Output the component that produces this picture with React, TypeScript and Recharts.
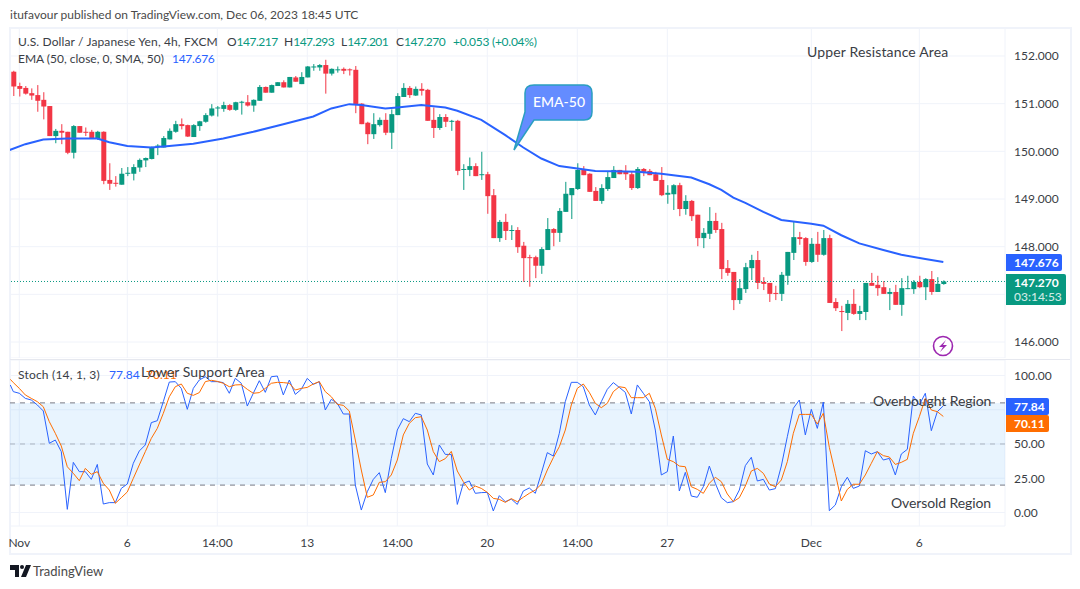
import { Bar, CartesianGrid, ComposedChart, Line, ReferenceArea, ReferenceLine, XAxis, YAxis } from "recharts";

const FONT = "Lato, 'Noto Sans', sans-serif";
const UP = "#089981";
const DOWN = "#f23645";
const BLUE = "#2962ff";
const ORANGE = "#ff6d00";
const GRID = "#f0f3fa";
const TEXT = "#3a3d45";

// 4h candles, Nov 1 -> Dec 6
const highs = [
  151.69,151.44,151.37,151.32,151.39,151.24,150.95,150.47,150.57,150.41,
  150.55,150.53,150.50,150.45,150.43,150.42,149.75,149.48,149.65,149.67,
  149.73,149.85,149.87,150.10,150.15,150.32,150.48,150.64,150.69,150.56,
  150.57,150.64,150.80,150.99,150.95,151.04,150.99,151.04,151.06,151.18,
  151.09,151.39,151.36,151.40,151.45,151.49,151.56,151.58,151.66,151.79,
  151.83,151.83,151.92,151.74,151.78,151.76,151.74,151.79,151.01,150.62,
  150.80,150.71,150.80,150.88,151.22,151.43,151.37,151.36,151.43,151.31,
  150.92,150.78,150.78,150.66,150.66,149.73,149.87,149.75,149.99,149.57,
  149.21,148.56,148.69,148.45,148.41,148.10,147.83,147.81,147.99,148.60,
  148.39,148.81,149.36,149.23,149.75,149.69,149.54,149.25,149.31,149.57,
  149.69,149.61,149.71,149.57,149.67,149.65,149.63,149.57,149.67,149.29,
  149.31,149.34,149.08,148.98,148.67,148.39,148.83,148.71,148.50,147.72,
  147.47,147.32,147.66,147.83,147.91,147.36,147.24,147.18,147.47,147.89,
  148.53,148.31,148.20,148.18,148.31,148.35,148.25,146.92,146.76,146.88,
  147.11,146.76,147.24,147.45,147.39,147.28,147.13,147.20,147.34,147.39,
  147.30,147.39,147.34,147.49,147.36,147.293,
];
const lows = [
  151.16,151.15,151.19,151.08,150.83,150.67,150.32,150.17,150.15,149.94,
  149.85,150.39,150.32,150.26,150.24,149.31,149.19,149.26,149.30,149.48,
  149.39,149.57,149.67,149.83,149.92,150.08,150.25,150.39,150.46,150.30,
  150.30,150.43,150.60,150.73,150.73,150.83,150.85,150.85,150.77,150.94,
  150.83,151.06,151.23,151.23,151.37,151.34,151.34,151.46,151.41,151.55,
  151.69,151.69,151.21,151.59,151.65,151.62,151.59,150.80,150.57,150.15,
  150.26,150.52,150.34,150.05,150.76,151.14,151.12,151.16,151.17,150.64,
  150.28,150.45,150.51,150.43,149.50,149.19,149.48,149.48,149.40,148.69,
  148.18,148.10,148.14,148.14,147.87,147.26,147.16,147.34,147.43,147.93,
  148.01,148.10,148.73,148.58,149.19,149.50,149.15,148.96,148.90,149.17,
  149.44,149.52,149.40,149.19,149.21,149.48,149.50,149.38,149.06,148.90,
  148.77,148.64,148.67,148.54,148.01,147.97,148.16,148.29,147.32,147.39,
  146.67,146.80,147.03,147.30,147.11,147.09,146.84,146.88,146.86,147.20,
  147.72,148.04,147.60,147.66,147.68,147.81,146.82,146.65,146.23,146.46,
  146.57,146.46,146.46,147.18,146.97,147.01,146.67,146.78,146.55,147.11,
  147.01,147.13,146.88,146.99,147.05,147.201,
];
const opens = [
  151.67,151.37,151.33,151.22,151.18,151.08,150.95,150.32,150.43,150.41,
  149.97,150.53,150.41,150.41,150.26,150.41,149.40,149.34,149.30,149.53,
  149.53,149.66,149.81,149.84,150.10,150.08,150.25,150.41,150.57,150.55,
  150.30,150.53,150.62,150.75,150.90,150.89,150.97,150.87,151.03,151.03,
  150.96,151.06,151.35,151.23,151.37,151.45,151.34,151.55,151.41,151.55,
  151.76,151.76,151.81,151.63,151.71,151.73,151.72,151.71,151.00,150.60,
  150.36,150.55,150.66,150.39,150.76,151.14,151.33,151.17,151.31,151.29,
  150.66,150.49,150.72,150.63,150.64,149.61,149.61,149.69,149.50,149.52,
  149.08,148.18,148.52,148.34,148.35,148.02,147.78,147.78,147.60,147.93,
  148.37,148.29,148.73,149.08,149.21,149.61,149.53,149.17,148.96,149.21,
  149.44,149.61,149.57,149.52,149.23,149.63,149.59,149.52,149.40,149.09,
  149.10,149.29,148.79,148.96,148.67,148.18,148.27,148.54,148.37,147.55,
  147.47,146.88,147.11,147.55,147.72,147.26,147.24,147.03,147.01,147.39,
  147.87,148.20,148.18,147.68,148.06,147.83,148.18,146.84,146.65,146.61,
  146.80,146.59,146.63,147.24,147.20,147.15,147.01,147.05,146.78,147.12,
  147.11,147.26,147.15,147.32,147.05,147.217,
];
const closes = [
  151.36,151.31,151.21,151.17,151.06,150.94,150.32,150.43,150.39,149.97,
  150.53,150.39,150.39,150.27,150.41,149.38,149.32,149.32,149.53,149.55,
  149.67,149.82,149.86,150.08,150.12,150.28,150.43,150.57,150.53,150.31,
  150.55,150.63,150.76,150.90,150.92,150.97,150.87,151.03,151.04,150.96,
  151.08,151.35,151.23,151.39,151.45,151.34,151.56,151.46,151.56,151.78,
  151.78,151.81,151.63,151.73,151.72,151.69,151.70,150.99,150.57,150.36,
  150.57,150.66,150.39,150.78,151.16,151.33,151.18,151.31,151.27,150.64,
  150.49,150.72,150.62,150.64,149.59,149.63,149.69,149.48,149.52,149.06,
  148.18,148.52,148.33,148.35,147.99,147.76,147.77,147.60,147.95,148.37,
  148.29,148.75,149.11,149.23,149.61,149.50,149.15,148.96,149.23,149.46,
  149.61,149.52,149.52,149.23,149.63,149.57,149.50,149.38,149.08,149.13,
  149.29,148.79,148.96,148.64,148.18,148.29,148.54,148.35,147.53,147.45,
  146.88,147.13,147.57,147.72,147.24,147.22,147.01,147.01,147.41,147.89,
  148.20,148.16,147.68,148.06,147.83,148.18,146.82,146.71,146.63,146.80,
  146.59,146.65,147.24,147.18,147.13,147.01,147.05,146.78,147.13,147.13,
  147.26,147.15,147.32,147.05,147.22,147.27,
];

// EMA read at these candle positions
const emaAt = [
  -1,2,5,9,14,16,19,23,26,30,35,40,45,50,53,56,58,62,64,68,72,74,78,82,85,88,91,94,97,100,104,108,113,116,118,120,122,125,128,130,133,135,138,141,145,148,152,155,
];
const emaValues = [
  150.01,150.15,150.25,150.27,150.27,150.19,150.11,150.08,150.11,150.16,150.27,150.41,150.57,150.73,150.90,150.99,150.97,150.90,150.92,150.97,150.92,150.85,150.66,150.34,150.08,149.85,149.69,149.64,149.59,149.58,149.57,149.53,149.45,149.31,149.19,149.03,148.92,148.73,148.56,148.53,148.48,148.44,148.24,148.07,147.93,147.83,147.74,147.68,
];

const stochK = [
  88.2,87.0,83.3,82.1,78.5,74.1,50.5,52.9,44.4,2.3,
  36.6,29.8,29.8,24.2,35.1,6.2,7.2,7.2,17.6,20.8,
  35.9,44.9,49.3,65.6,67.0,80.9,95.2,95.5,90.6,75.3,
  90.6,96.7,99.1,95.5,95.5,94.8,87.0,97.9,94.3,77.7,
  87.0,96.2,87.7,99.1,99.6,85.8,96.7,86.2,89.9,97.9,
  93.5,95.5,74.8,82.6,79.7,71.9,71.9,20.1,1.8,15.2,
  24.2,29.1,14.5,39.5,60.2,68.5,66.3,72.4,71.2,35.4,
  27.4,49.3,42.4,42.4,5.9,21.3,23.0,14.0,14.5,14.7,
  1.1,12.3,7.9,9.8,5.9,15.7,17.9,14.0,28.6,43.7,
  41.2,57.8,80.9,95.0,95.0,91.8,78.5,71.2,80.9,89.9,
  94.8,91.3,87.7,71.9,93.1,87.0,80.9,60.2,27.4,29.8,
  55.8,15.7,29.3,12.0,11.1,18.8,33.9,21.3,10.8,7.2,
  7.9,16.4,34.2,40.3,23.0,24.2,16.4,17.4,33.9,55.3,
  76.0,82.1,56.6,75.3,61.4,80.6,1.3,5.5,18.8,25.7,
  17.6,19.3,45.1,42.7,44.4,38.3,39.5,27.4,42.7,46.1,
  85.0,78.5,87.0,59.7,73.6,77.84,
];
const stochD = [
  94.8,90.6,85.8,83.3,80.9,77.2,66.3,57.8,48.5,33.4,
  28.6,23.2,32.2,27.9,29.8,21.3,16.4,6.7,10.8,15.0,
  24.9,34.7,44.4,54.1,61.4,72.4,84.5,91.8,93.8,87.0,
  85.5,87.5,95.5,96.5,95.7,94.3,91.8,93.1,93.3,89.9,
  87.0,87.5,90.6,94.3,95.0,94.8,94.3,89.4,90.6,91.3,
  93.8,95.5,88.2,84.5,78.9,78.2,74.1,52.9,31.0,11.1,
  12.8,22.0,22.5,27.4,38.3,56.6,65.1,69.2,69.9,60.2,
  44.4,37.1,39.3,44.6,30.3,22.5,16.4,19.3,17.6,14.7,
  10.3,9.6,7.4,10.1,7.9,11.1,14.0,16.4,20.6,31.0,
  40.0,48.0,60.2,78.5,90.6,93.8,87.7,79.7,76.5,79.7,
  88.2,91.8,91.1,83.8,83.8,83.8,87.0,76.0,56.6,38.8,
  37.1,33.9,33.4,18.8,16.9,14.0,21.3,25.7,22.5,13.5,
  7.9,10.8,19.3,30.3,32.2,28.6,20.8,18.8,23.7,37.1,
  57.8,71.6,71.6,71.6,64.6,72.4,47.6,28.6,8.4,16.9,
  20.6,20.6,27.4,35.9,44.4,41.5,40.5,35.1,36.6,38.8,
  57.8,69.9,83.3,74.8,73.6,70.11,
];

const timeTicks = [1, 19, 34, 49, 64, 79, 94, 109, 133, 151];
const timeLabels = ["Nov", "6", "14:00", "13", "14:00", "20", "14:00", "27", "Dec", "6"];
const priceTicks = [146, 147, 148, 149, 150, 151, 152];
const stochTicks = [0, 25, 50, 75, 100];

const X_DOMAIN: [number, number] = [-0.55, 165.28];

const priceRows: any[] = [
  { i: -1, ema: emaValues[0] },
  ...highs.map((high, i) => ({
    i,
    high,
    low: lows[i],
    open: opens[i],
    close: closes[i],
    range: [lows[i], high],
    ema: emaAt.includes(i) ? emaValues[emaAt.indexOf(i)] : undefined,
  })),
];

const stochRows = [
  { i: -0.5, k: 93.05, d: 97.2 },
  ...stochK.map((k, i) => ({ i, k, d: stochD[i] })),
];

function Candle(props: any) {
  const { x, y, width, height, payload } = props;
  if (!payload || payload.high == null) return null;
  const { high, low, open, close } = payload;
  const toY = (v: number) => y + ((high - v) / (high - low)) * height;
  const color = close >= open ? UP : DOWN;
  const cx = x + width / 2;
  const top = toY(Math.max(open, close));
  const bottom = toY(Math.min(open, close));
  return (
    <g>
      <line x1={cx} x2={cx} y1={y} y2={y + height} stroke={color} strokeWidth={1} />
      <rect x={x} y={top} width={width} height={Math.max(bottom - top, 1)} fill={color} />
    </g>
  );
}

function Txt({ x, y, color = TEXT, size = 12, weight = 400, spacing = 0, children }: any) {
  return (
    <div
      style={{
        position: "absolute",
        left: x,
        top: y - 10,
        height: 20,
        lineHeight: "20px",
        fontFamily: FONT,
        fontSize: size,
        fontWeight: weight,
        letterSpacing: spacing,
        color,
        whiteSpace: "nowrap",
      }}
    >
      {children}
    </div>
  );
}

function Tag({ x, y, w, h, bg, children }: any) {
  return (
    <div
      style={{
        position: "absolute",
        left: x,
        top: y,
        width: w,
        height: h,
        background: bg,
        color: "#fff",
        fontFamily: FONT,
        fontSize: 12,
        fontWeight: 700,
        lineHeight: "17px",
        paddingLeft: 8,
        boxSizing: "border-box",
        borderRadius: "0 2px 2px 0",
      }}
    >
      {children}
    </div>
  );
}

function Ohlc({ x, name, value }: any) {
  return (
    <Txt x={x} y={42}>
      {name}
      <span style={{ color: UP, letterSpacing: -0.5 }}>{value}</span>
    </Txt>
  );
}

const tick = { fontFamily: FONT, fontSize: 12, fill: TEXT };

export default function App() {
  return (
    <div style={{ position: "absolute", left: 0, top: 0, width: 1080, height: 589, background: "#fff", overflow: "hidden" }}>
      <Txt x={10} y={15} color="#4a4a4a">itufavour published on TradingView.com, Dec 06, 2023 18:45 UTC</Txt>

      {/* frame */}
      <div style={{ position: "absolute", left: 9, top: 27, width: 1059, height: 524, border: "2px solid " + GRID }} />
      <div style={{ position: "absolute", left: 10, top: 359, width: 1060, height: 1, background: "#e6e8ef" }} />

      <div style={{ position: "absolute", left: 0, top: 28 }}>
        <ComposedChart width={1080} height={330} data={priceRows} margin={{ top: 0, right: 0, bottom: 0, left: 10 }}>
          <CartesianGrid stroke={GRID} />
          <XAxis dataKey="i" type="number" domain={X_DOMAIN} ticks={timeTicks} allowDataOverflow hide />
          <YAxis
            orientation="right"
            width={75}
            domain={[145.665, 152.587]}
            ticks={priceTicks}
            allowDataOverflow
            interval={0}
            axisLine={false}
            tickLine={false}
            tickMargin={3}
            tick={tick}
            tickFormatter={(v: number) => (v === 147 ? "" : v.toFixed(3))}
          />
          <ReferenceLine y={147.27} stroke={UP} strokeDasharray="1 2" />
          <Bar dataKey="range" barSize={5} shape={<Candle />} isAnimationActive={false} />
          <Line dataKey="ema" stroke={BLUE} strokeWidth={2} dot={false} connectNulls isAnimationActive={false} />
        </ComposedChart>
      </div>

      <div style={{ position: "absolute", left: 0, top: 360 }}>
        <ComposedChart width={1080} height={193} data={stochRows} margin={{ top: 0, right: 0, bottom: 0, left: 10 }}>
          <CartesianGrid stroke={GRID} />
          <XAxis
            dataKey="i"
            type="number"
            domain={X_DOMAIN}
            ticks={timeTicks}
            allowDataOverflow
            interval={0}
            height={27}
            axisLine={false}
            tickLine={false}
            tickMargin={6}
            tick={tick}
            tickFormatter={(v: number) => timeLabels[timeTicks.indexOf(v)]}
          />
          <YAxis
            orientation="right"
            width={75}
            domain={[-9.85, 111.3]}
            ticks={stochTicks}
            allowDataOverflow
            interval={0}
            axisLine={false}
            tickLine={false}
            tickMargin={3}
            tick={tick}
            tickFormatter={(v: number) => (v === 75 ? "" : v.toFixed(2))}
          />
          <ReferenceArea y1={20} y2={80} fill="#2196f3" fillOpacity={0.1} stroke="none" />
          <ReferenceLine y={80} stroke="#787b86" strokeDasharray="5 5" />
          <ReferenceLine y={50} stroke="#787b86" strokeOpacity={0.5} strokeDasharray="5 5" />
          <ReferenceLine y={20} stroke="#787b86" strokeDasharray="5 5" />
          <Line dataKey="k" stroke={BLUE} strokeWidth={1} dot={false} isAnimationActive={false} />
          <Line dataKey="d" stroke={ORANGE} strokeWidth={1} dot={false} isAnimationActive={false} />
        </ComposedChart>
      </div>

      {/* legend rows */}
      <Txt x={18} y={42} spacing={0.13}>U.S. Dollar / Japanese Yen, 4h, FXCM</Txt>
      <Ohlc x={227} name="O" value="147.217" />
      <Ohlc x={284} name="H" value="147.293" />
      <Ohlc x={341} name="L" value="147.201" />
      <Ohlc x={396} name="C" value="147.270" />
      <Txt x={453} y={42} color={UP} spacing={-0.25}>+0.053 (+0.04%)</Txt>
      <Txt x={18} y={59}>EMA (50, close, 0, SMA, 50)</Txt>
      <Txt x={172} y={59} color={BLUE} spacing={-0.3}>147.676</Txt>
      <Txt x={18} y={375} spacing={0.2}>Stoch (14, 1, 3)</Txt>
      <Txt x={109} y={375} color={BLUE}>77.84</Txt>
      <Txt x={146} y={375} color={ORANGE}>70.11</Txt>

      {/* drawn annotations */}
      <Txt x={807} y={52} size={14} spacing={0.15}>Upper Resistance Area</Txt>
      <Txt x={141} y={372} size={14} spacing={0.1}>Lower Support Area</Txt>
      <Txt x={873} y={401} size={14} spacing={-0.1}>Overbought Region</Txt>
      <Txt x={891} y={503} size={14} spacing={-0.1}>Oversold Region</Txt>

      <svg width={1080} height={589} style={{ position: "absolute", left: 0, top: 0, pointerEvents: "none" }}>
        <path
          d="M534 85 H584 Q592 85 592 93 V112 Q592 120 584 120 H534 L514 150 L525 112 V93 Q525 85 534 85 Z"
          fill="#648cff"
          stroke="#2a9fc0"
          strokeWidth={1.5}
        />
        <text x={559} y={107} textAnchor="middle" fontFamily={FONT} fontSize={14} fontWeight={500} fill="#fff">EMA-50</text>
        <circle cx={943} cy={346} r={9.5} fill="#fff" stroke="#9c27b0" strokeWidth={1.6} />
        <path d="M946 340 L939 347 H943 L940 352 L947 345 H943 Z" fill="#9c27b0" />
        <path d="M10 565 H19 V577 H15 V570 H10 Z M26 565 H31 L26 577 H21 Z" fill="#131722" />
        <circle cx={22} cy={567} r={2} fill="#131722" />
      </svg>
      <Txt x={33} y={571} size={13} color="#4a4a4a">TradingView</Txt>

      {/* last value tags */}
      <Tag x={1006} y={254} w={56} h={17} bg={BLUE}>147.676</Tag>
      <Tag x={1006} y={274} w={60} h={31} bg={UP}>
        147.270
        <div style={{ fontWeight: 500, fontSize: 12, lineHeight: "12px", opacity: 0.8 }}>03:14:53</div>
      </Tag>
      <Tag x={1006} y={398} w={43} h={17} bg={BLUE}>77.84</Tag>
      <Tag x={1006} y={415} w={43} h={17} bg={ORANGE}>70.11</Tag>
    </div>
  );
}
